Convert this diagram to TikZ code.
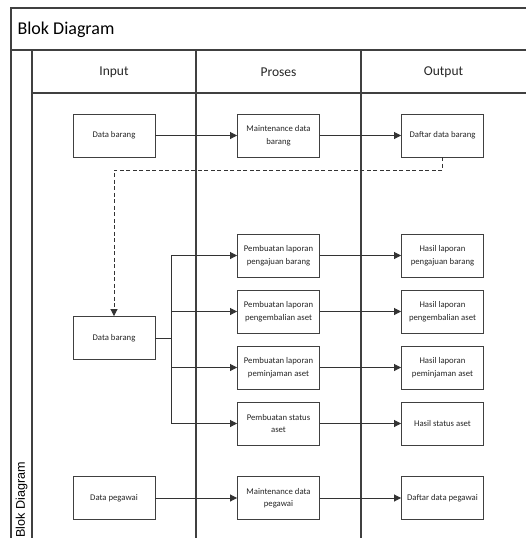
\documentclass[tikz,border=0pt]{standalone}
\usepackage{fontspec}
\setmainfont{Carlito}
\newfontfamily\lanefont{Liberation Sans}
\usetikzlibrary{arrows.meta}
\begin{document}
\begin{tikzpicture}[x=1pt,y=-1pt,
  frame/.style={draw=black!75,line width=1.1pt},
  blk/.style={draw=black!75,line width=0.9pt,minimum width=82pt,minimum height=43pt,
    inner sep=1pt,align=center,font=\fontsize{8.7}{12.5}\selectfont,text=black!85},
  conn/.style={draw=black!80,line width=0.9pt,-{Triangle[length=7pt,width=7pt]}},
  plain/.style={draw=black!80,line width=0.9pt},
  hdr/.style={font=\fontsize{13.5}{16}\selectfont,text=black!85}]
\useasboundingbox (0,0) rectangle (526,538);
\clip (0,0) rectangle (526,538);
\fill[white] (0,0) rectangle (526,538);
% frame
\draw[frame] (540,8) -- (11,8) -- (11,545);
\draw[frame] (11,50) -- (540,50);
\draw[frame] (32,50) -- (32,545);
\draw[frame] (32,93) -- (540,93);
\draw[frame] (196,50) -- (196,545);
\draw[frame] (361,50) -- (361,545);
\node[anchor=west,font=\fontsize{18}{20}\selectfont] (title) at (14,29.5) {Blok Diagram};
\node[rotate=90,font=\lanefont\fontsize{12.6}{14}\selectfont,anchor=center] (lane) at (21.5,500) {Blok Diagram};
\node[hdr] (hin) at (114,72) {Input};
\node[hdr] (hpr) at (278.5,72) {Proses};
\node[hdr] (hout) at (443.5,72) {Output};
% boxes
\node[blk] (db1) at (114,135.5) {Data barang};
\node[blk] (m1) at (278.5,135.5) {Maintenance data\\barang};
\node[blk] (o1) at (442.5,135.5) {Daftar data barang};
\node[blk] (db2) at (114,338) {Data barang};
\node[blk] (p1) at (278.5,255.5) {Pembuatan laporan\\pengajuan barang};
\node[blk] (p2) at (278.5,311.5) {Pembuatan laporan\\pengembalian aset};
\node[blk] (p3) at (278.5,367.5) {Pembuatan laporan\\peminjaman aset};
\node[blk] (p4) at (278.5,423.5) {Pembuatan status\\aset};
\node[blk] (h1) at (442.5,255.5) {Hasil laporan\\pengajuan barang};
\node[blk] (h2) at (442.5,311.5) {Hasil laporan\\pengembalian aset};
\node[blk] (h3) at (442.5,367.5) {Hasil laporan\\peminjaman aset};
\node[blk] (h4) at (442.5,423.5) {Hasil status aset};
\node[blk] (dp) at (114,498) {Data pegawai};
\node[blk] (m2) at (278.5,498) {Maintenance data\\pegawai};
\node[blk] (o2) at (442.5,498) {Daftar data pegawai};
% connectors
\draw[conn] (db1) -- (m1);
\draw[conn] (m1) -- (o1);
\coordinate (dk) at (0,170);
\draw[conn,dashed,dash pattern=on 4pt off 2.5pt] (o1.south) -- (o1.south |- dk) -| (db2.north);
\coordinate (br) at (171,338);
\draw[plain] (db2.east) -- (br);
\draw[conn] (br) |- (p1.west);
\draw[conn] (br) |- (p2.west);
\draw[conn] (br) |- (p3.west);
\draw[conn] (br) |- (p4.west);
\draw[conn] (p1) -- (h1);
\draw[conn] (p2) -- (h2);
\draw[conn] (p3) -- (h3);
\draw[conn] (p4) -- (h4);
\draw[conn] (dp) -- (m2);
\draw[conn] (m2) -- (o2);
\end{tikzpicture}
\end{document}
